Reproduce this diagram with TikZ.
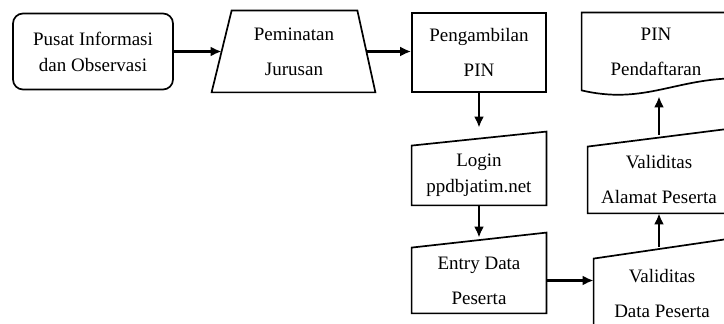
\documentclass[tikz,border=0pt]{standalone}
\usepackage{fontspec}
\setmainfont{Liberation Serif}
\usepackage{tikz}
\usetikzlibrary{arrows.meta,calc}
\tikzstyle{arrow} = [draw, -{Latex[length=5.5pt,width=5pt]}, line width=1.4pt]
\tikzstyle{line} = [draw, line width=0.85pt]
\tikzstyle{box} = [rectangle, align=center, minimum width=67pt, font=\fontsize{9.5}{13}\selectfont]

\begin{document}
\begin{tikzpicture}[auto, x=0.5pt, y=-0.5pt]
      \useasboundingbox (0,0) rectangle (724,324);
      \clip (0,0) rectangle (724,324);

      \node[box, line, rounded corners=5pt, minimum width=80pt, minimum height=38pt] (pusat) at (93, 51.5) {Pusat Informasi\\dan Observasi};
      \node[box, minimum width=72pt, minimum height=40.5pt] (minat) at (294, 51.5) {Peminatan\\[4.5pt]Jurusan};
      \node[box, line, minimum height=39.5pt] (ambil) at (479, 52.5) {Pengambilan\\[4.5pt]PIN};
      \node[box, minimum width=74pt, minimum height=38.5pt] (daftar) at (656, 51.5) {PIN\\[4.5pt]Pendaftaran};
      \node[box, minimum height=29.5pt] (login) at (479, 175.5) {Login\\ppdbjatim.net};
      \node[box, minimum height=32.5pt] (entry) at (479, 280.5) {Entry Data\\[4.5pt]Peserta};
      \node[box, minimum width=71pt, minimum height=33pt] (alamat) at (659, 180) {Validitas\\[4.5pt]Alamat Peserta};
      \node[box, minimum width=68pt, minimum height=34.5pt] (valdata) at (662, 293.5) {Validitas\\[4.5pt]Data Peserta};

      \draw[line] ($(minat.north west)+(5pt,0)$) -- ($(minat.north east)+(-4.5pt,0)$) -- ($(minat.south east)+(4.5pt,0)$) -- ($(minat.south west)+(-5pt,0)$) -- cycle;
      \draw[line] (daftar.north west) -- (daftar.south west) .. controls +(30pt,-7pt) and +(-29pt,-1pt) .. ($(daftar.south east)+(0,6pt)$) -- (daftar.north east) -- cycle;
      \draw[line] (login.south west) -- (login.south east) -- ($(login.north east)+(0,7pt)$) -- (login.north west) -- cycle;
      \draw[line] (entry.south west) -- (entry.south east) -- ($(entry.north east)+(0,7.5pt)$) -- (entry.north west) -- cycle;
      \draw[line] (alamat.south west) -- (alamat.south east) -- ($(alamat.north east)+(0,9pt)$) -- (alamat.north west) -- cycle;
      \draw[line] (valdata.south west) -- (valdata.south east) -- ($(valdata.north east)+(0,10pt)$) -- (valdata.north west) -- cycle;

      \draw[arrow] (pusat) -- (minat);
      \draw[arrow] (minat.east) -- (minat.east -| ambil.west);
      \draw[arrow, shorten >=9pt] (ambil) -- (login);
      \draw[arrow, shorten >=5pt] (login) -- (entry);
      \draw[arrow] (entry.east) -- (entry.east -| valdata.west);
      \draw[arrow, shorten <=6pt] (valdata.north -| alamat.south) -- (alamat.south);
      \draw[arrow, shorten <=6pt, shorten >=3pt] (alamat.north) -- (alamat.north |- daftar.south);
\end{tikzpicture}
\end{document}
